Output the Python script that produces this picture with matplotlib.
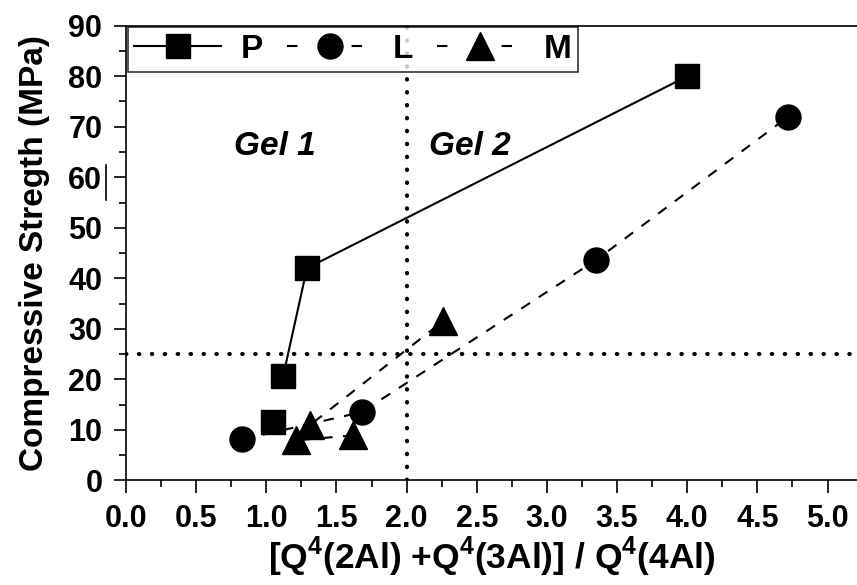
import matplotlib.pyplot as plt
from matplotlib.lines import Line2D
import numpy as np

plt.rcParams['font.family'] = ['Liberation Sans', 'DejaVu Sans']
plt.rcParams['font.weight'] = 'bold'
plt.rcParams['mathtext.fontset'] = 'custom'
plt.rcParams['mathtext.rm'] = 'Liberation Sans:bold'
plt.rcParams['mathtext.bf'] = 'Liberation Sans:bold'

# P series (squares, solid line)
p_x = [1.05, 1.12, 1.29, 4.0]
p_y = [11.5, 20.6, 42.0, 80.0]
# L series (circles, dashed line)
l_x = [0.83, 1.68, 3.35, 4.72]
l_y = [8.1, 13.5, 43.6, 72.0]
# M series (triangles, dashed line)
m_x = [1.62, 1.21, 1.31, 2.26]
m_y = [8.9, 7.9, 10.9, 31.5]

gel_limit_x = 2.0
strength_limit_y = 25

fig = plt.figure(figsize=(8.57, 5.85), dpi=100)
ax = fig.add_axes([0.147, 0.179, 0.853, 0.777])

dash = (0, (5, 5))
# first P point sits unconnected in the original
ax.plot(p_x[:1], p_y[:1], color='k', ls='none', marker='s', ms=17)
ax.plot(p_x[1:], p_y[1:], color='k', lw=1.5, marker='s', ms=17)
ax.plot(l_x, l_y, color='k', lw=1.5, ls=dash, marker='o', ms=18)
ax.plot(m_x, m_y, color='k', lw=1.5, ls=dash, marker='^', ms=20)

ax.axvline(gel_limit_x, color='k', lw=3, ls=(0, (0.1, 3)), dash_capstyle='round', zorder=1)
ax.axhline(strength_limit_y, color='k', lw=3, ls=(0, (0.1, 3)), dash_capstyle='round', zorder=1)

ax.text(1.06, 66, 'Gel 1', fontsize=24, fontweight='bold', style='italic', ha='center', va='center')
ax.text(2.45, 66, 'Gel 2', fontsize=24, fontweight='bold', style='italic', ha='center', va='center')

ax.set_xlim(0, 5.21)
ax.set_ylim(0, 90)
ax.set_xticks(np.arange(0, 5.01, 0.5))
ax.set_xticks(np.arange(0.25, 5.2, 0.5), minor=True)
ax.set_yticks(np.arange(0, 91, 10))
ax.set_yticks(np.arange(5, 90, 10), minor=True)
ax.set_xticklabels(['%.1f' % v for v in np.arange(0, 5.01, 0.5)])
ax.tick_params(axis='both', which='major', labelsize=22, length=9, width=1.2, direction='out', pad=8)
ax.tick_params(axis='both', which='minor', length=5, width=1.2, direction='out')
ax.spines['right'].set_visible(False)
for s in ['left', 'bottom', 'top']:
    ax.spines[s].set_linewidth(1.2)

ax.set_xlabel(r'[Q$^{4}$(2Al) +Q$^{4}$(3Al)] / Q$^{4}$(4Al)', fontsize=25.5, fontweight='bold', labelpad=1)
ax.set_ylabel('Compressive Stregth (MPa)', fontsize=24, fontweight='bold', labelpad=13)

handles = [
    Line2D([], [], color='k', lw=1.5, marker='s', ms=17),
    Line2D([], [], color='k', lw=1.5, ls=(0, (5, 26)), marker='o', ms=18),
    Line2D([], [], color='k', lw=1.5, ls=(0, (5, 26)), marker='^', ms=20),
]
leg = ax.legend(handles, ['P', 'L', 'M'], loc='upper left', bbox_to_anchor=(0, 1), ncol=3,
                fontsize=24, frameon=True, fancybox=False, edgecolor='k', handlelength=2.6,
                columnspacing=0.7, borderaxespad=0.05, borderpad=0.2, handletextpad=0.6)
leg.get_frame().set_linewidth(1.2)

# small stray vertical mark next to the 60 label
fig.add_artist(Line2D([0.1237, 0.1237], [1 - 165 / 585, 1 - 200 / 585], color='k', lw=1.2))

fig.savefig('out.png', dpi=100)
